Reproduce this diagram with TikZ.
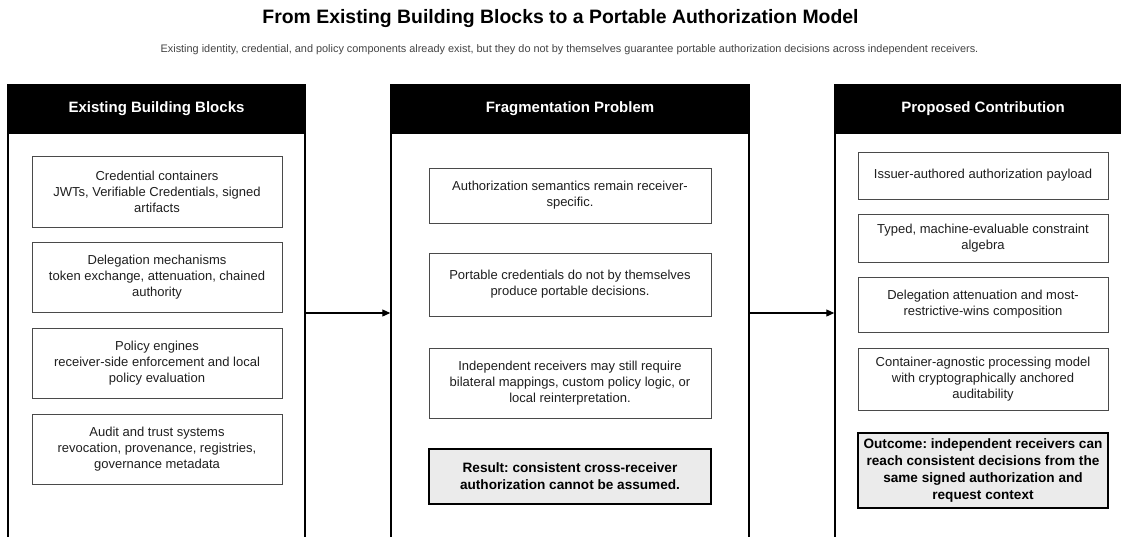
\documentclass[tikz,border=0pt]{standalone}
\usepackage{fontspec}
\setmainfont{Liberation Sans}
\usetikzlibrary{arrows.meta}
\definecolor{boxgray}{HTML}{EBEBEB}
\definecolor{subgray}{HTML}{444444}
\definecolor{edgegray}{HTML}{4A4A4A}
\frenchspacing
\tikzset{
  panel/.style={draw=black, line width=1.5pt, fill=white, minimum width=#1, minimum height=480pt, inner sep=0pt},
  hdr/.style={draw=black, line width=1.5pt, fill=black, text=white, minimum width=#1, minimum height=48pt, inner sep=0pt,
    font=\fontsize{15}{18}\selectfont\bfseries},
  item/.style={draw=edgegray, line width=1pt, fill=white, minimum width=#1, inner sep=0pt, align=center,
    font=\fontsize{13}{16}\selectfont, text=black!88},
  result/.style={draw=black, line width=1.5pt, fill=boxgray, minimum width=#1, inner sep=0pt, align=center,
    font=\fontsize{13.6}{17}\selectfont\bfseries, text=black},
  arr/.style={line width=1.2pt, -{Triangle[length=8pt, width=7pt]}},
}
\begin{document}
\begin{tikzpicture}[x=1pt, y=-1pt]
\useasboundingbox (0,0) rectangle (1121,536);
\clip (0,0) rectangle (1121,536);
\fill[white] (0,0) rectangle (1121,536);

% title
\node[font=\fontsize{19.4}{23}\selectfont\bfseries, anchor=base] (title) at (560.5,23) {From Existing Building Blocks to a Portable Authorization Model};
\node[font=\fontsize{10.9}{13}\selectfont, text=subgray, anchor=base] (sub) at (569.5,52) {Existing identity, credential, and policy components already exist, but they do not by themselves guarantee portable authorization decisions across independent receivers.};

% panels
\node[panel=297pt] (pL) at (156.5,325) {};
\node[panel=358pt] (pM) at (570,325) {};
\node[panel=296pt] (pR) at (983,325) {};
\node[hdr=297pt] (hL) at (156.5,109) {Existing Building Blocks};
\node[hdr=358pt] (hM) at (570,109) {Fragmentation Problem};
\node[hdr=296pt] (hR) at (983,109) {Proposed Contribution};

% left items
\node[item=250pt, minimum height=71pt] (l1) at (157,191.5) {Credential containers\\JWTs, Verifiable Credentials, signed\\artifacts};
\node[item=250pt, minimum height=70pt] (l2) at (157,277) {Delegation mechanisms\\token exchange, attenuation, chained\\authority};
\node[item=250pt, minimum height=70pt] (l3) at (157,363) {Policy engines\\receiver-side enforcement and local\\policy evaluation};
\node[item=250pt, minimum height=70pt] (l4) at (157,449) {Audit and trust systems\\revocation, provenance, registries,\\governance metadata};

% middle items
\node[item=282pt, minimum height=55pt] (m1) at (570,195.5) {Authorization semantics remain receiver-\\specific.};
\node[item=282pt, minimum height=63pt] (m2) at (570,284.5) {Portable credentials do not by themselves\\produce portable decisions.};
\node[item=282pt, minimum height=70pt] (m3) at (570,383) {Independent receivers may still require\\bilateral mappings, custom policy logic, or\\local reinterpretation.};
\node[result=282pt, minimum height=55pt] (m4) at (570,476.5) {Result: consistent cross-receiver\\authorization cannot be assumed.};

% right items
\node[item=250pt, minimum height=47pt] (r1) at (983,175.5) {Issuer-authored authorization payload};
\node[item=250pt, minimum height=48pt] (r2) at (983,238) {Typed, machine-evaluable constraint\\algebra};
\node[item=250pt, minimum height=55pt] (r3) at (983,304.5) {Delegation attenuation and most-\\restrictive-wins composition};
\node[item=250pt, minimum height=62pt] (r4) at (983,379) {Container-agnostic processing model\\with cryptographically anchored\\auditability};
\node[result=250pt, minimum height=75pt] (r5) at (983,470.5) {Outcome: independent receivers can\\reach consistent decisions from the\\same signed authorization and\\request context};

% connectors
\coordinate (ay) at (0,313);
\draw[arr] (pL.east |- ay) -- (pM.west |- ay);
\draw[arr] (pM.east |- ay) -- (pR.west |- ay);
\end{tikzpicture}
\end{document}
